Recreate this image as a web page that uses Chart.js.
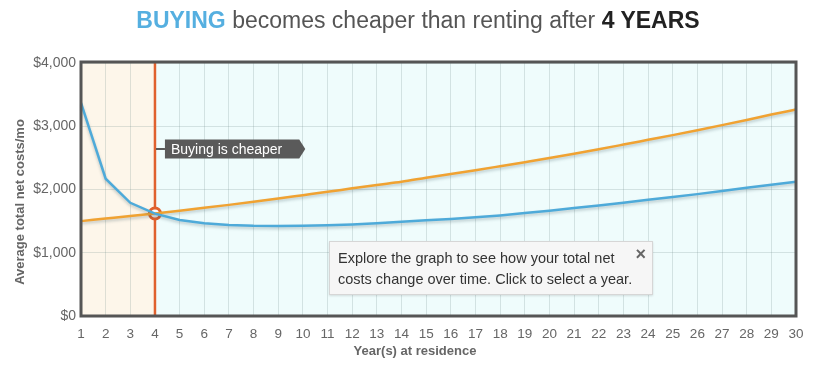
<!DOCTYPE html>
<html>
<head>
<meta charset="utf-8">
<script src="https://cdn.jsdelivr.net/npm/chart.js@4.4.1/dist/chart.umd.min.js"></script>
<style>
    body { margin: 0; background: #fff; font-family: "Liberation Sans", Arial, sans-serif; }
    #wrap { position: relative; width: 831px; height: 373px; }
    #title { position: absolute; left: 0; top: 7px; width: 836px; text-align: center; font-size: 23px; color: #555; white-space: nowrap; }
    #title .buy { color: #55afe0; font-weight: bold; }
    #title .yrs { color: #222; font-weight: bold; }
    #hint { position: absolute; left: 329px; top: 241px; width: 322px; height: 52px; background: #f6f6f6; border: 1px solid #d6d6d6; box-shadow: 0 1px 2px rgba(0,0,0,0.12); font-size: 14.5px; line-height: 21px; color: #333; }
    #hint p { margin: 6px 0 0 8px; white-space: nowrap; }
    #hint .close { position: absolute; right: 6px; top: 2px; font-size: 18px; font-weight: bold; color: #666; }
</style>
</head>
<body>
<div id="wrap">
    <canvas id="costChart" width="831" height="373"></canvas>
    <div id="title"><span class="buy">BUYING</span> becomes cheaper than renting after <span class="yrs">4 YEARS</span></div>
    <div id="hint"><p>Explore the graph to see how your total net<br>costs change over time. Click to select a year.</p><span class="close">&times;</span></div>
</div>
<script>
var YEARS = ['1', '2', '3', '4', '5', '6', '7', '8', '9', '10', '11', '12', '13', '14', '15',
    '16', '17', '18', '19', '20', '21', '22', '23', '24', '25', '26', '27', '28', '29', '30'];

// average total net costs per month
var BUY_COSTS = [3370, 2170, 1790, 1618, 1517, 1465, 1438, 1425, 1422, 1426, 1435, 1448, 1465, 1490, 1512,
    1535, 1560, 1590, 1627, 1665, 1706, 1748, 1791, 1837, 1880, 1927, 1978, 2028, 2076, 2122];
var RENT_COSTS = [1500, 1540, 1580, 1622, 1665, 1710, 1757, 1806, 1857, 1910, 1963, 2018, 2072, 2123, 2185,
    2245, 2305, 2368, 2432, 2497, 2565, 2636, 2710, 2785, 2860, 2938, 3018, 3100, 3185, 3265];

var BREAK_EVEN_YEAR = '4';
var BREAK_EVEN_COST = 1620;
var TAG_COST = 2640;
var TAG_TEXT = 'Buying is cheaper';
var X_TITLE = 'Year(s) at residence';
var Y_TITLE = 'Average total net costs/mo';

var BUY_COLOR = '#4eaad9',
    RENT_COLOR = '#f0a232',
    MARK_COLOR = '#e0612e',
    FONT = '"Liberation Sans", Arial, sans-serif';

var chartDecor = {
    id: 'chartDecor',
    beforeDraw: function (chart) {
        var ctx = chart.ctx,
            area = chart.chartArea,
            xBreak = chart.scales.x.getPixelForValue(YEARS.indexOf(BREAK_EVEN_YEAR));

        ctx.save();
        ctx.fillStyle = '#fdf6ea';
        ctx.fillRect(area.left, area.top, xBreak - area.left, area.bottom - area.top);
        ctx.fillStyle = '#effcfc';
        ctx.fillRect(xBreak, area.top, area.right - xBreak, area.bottom - area.top);
        ctx.restore();
    },
    beforeDatasetsDraw: function (chart) {
        var ctx = chart.ctx,
            area = chart.chartArea,
            xBreak = chart.scales.x.getPixelForValue(YEARS.indexOf(BREAK_EVEN_YEAR)),
            yTag = chart.scales.y.getPixelForValue(TAG_COST),
            tagLeft = xBreak + 10,
            tagWidth,
            tagH = 19;

        ctx.save();
        ctx.strokeStyle = MARK_COLOR;
        ctx.lineWidth = 2.5;
        ctx.beginPath();
        ctx.moveTo(xBreak, area.top);
        ctx.lineTo(xBreak, area.bottom);
        ctx.stroke();

        // tag
        ctx.font = '14px ' + FONT;
        tagWidth = ctx.measureText(TAG_TEXT).width + 23;
        ctx.strokeStyle = '#5a5a5a';
        ctx.lineWidth = 2;
        ctx.beginPath();
        ctx.moveTo(xBreak + 1, yTag);
        ctx.lineTo(tagLeft, yTag);
        ctx.stroke();
        ctx.fillStyle = '#5a5a5a';
        ctx.beginPath();
        ctx.moveTo(tagLeft, yTag - tagH / 2);
        ctx.lineTo(tagLeft + tagWidth, yTag - tagH / 2);
        ctx.lineTo(tagLeft + tagWidth + 6, yTag);
        ctx.lineTo(tagLeft + tagWidth, yTag + tagH / 2);
        ctx.lineTo(tagLeft, yTag + tagH / 2);
        ctx.closePath();
        ctx.fill();
        ctx.fillStyle = '#fff';
        ctx.textBaseline = 'middle';
        ctx.fillText(TAG_TEXT, tagLeft + 6, yTag + 1);
        ctx.restore();
    },
    beforeDatasetDraw: function (chart, args) {
        var ctx = chart.ctx;
        ctx.save();
        if (args.index < 2) {
            ctx.shadowColor = 'rgba(60, 90, 100, 0.3)';
            ctx.shadowBlur = 3;
            ctx.shadowOffsetY = 2;
        }
    },
    afterDatasetDraw: function (chart) {
        chart.ctx.restore();
    },
    afterDraw: function (chart) {
        var ctx = chart.ctx,
            area = chart.chartArea;

        ctx.save();
        ctx.strokeStyle = '#555';
        ctx.lineWidth = 3;
        ctx.strokeRect(area.left, area.top - 1, area.right - area.left, area.bottom - area.top + 1);

        ctx.fillStyle = '#666';
        ctx.font = 'bold 13px ' + FONT;
        ctx.textAlign = 'center';
        ctx.textBaseline = 'middle';
        ctx.fillText(X_TITLE, 415, 351);

        ctx.translate(20, 202);
        ctx.rotate(-Math.PI / 2);
        ctx.fillText(Y_TITLE, 0, 0);
        ctx.restore();
    }
};

var breakEvenPoint = YEARS.map(function (year) {
    return year === BREAK_EVEN_YEAR ? BREAK_EVEN_COST : null;
});

var costChart = new Chart(document.getElementById('costChart').getContext('2d'), {
    type: 'line',
    data: {
        labels: YEARS,
        datasets: [{
            label: 'Buy',
            data: BUY_COSTS,
            borderColor: BUY_COLOR,
            borderWidth: 2.5,
            pointRadius: 0,
            tension: 0,
            fill: false
        }, {
            label: 'Rent',
            data: RENT_COSTS,
            borderColor: RENT_COLOR,
            borderWidth: 2.5,
            pointRadius: 0,
            cubicInterpolationMode: 'monotone',
            fill: false
        }, {
            label: 'Break even',
            data: breakEvenPoint,
            showLine: false,
            pointRadius: 5.5,
            pointBorderWidth: 3,
            pointBackgroundColor: '#fff',
            pointBorderColor: MARK_COLOR
        }]
    },
    options: {
        responsive: false,
        animation: false,
        events: [],
        layout: { padding: { top: 63, right: 35, left: 0, bottom: 0 } },
        plugins: {
            legend: { display: false },
            tooltip: { enabled: false }
        },
        scales: {
            x: {
                offset: false,
                afterFit: function (scale) { scale.height = 57; },
                grid: { color: 'rgba(110, 135, 135, 0.22)', drawTicks: false },
                border: { display: false },
                ticks: {
                    autoSkip: false,
                    maxRotation: 0,
                    padding: 10,
                    color: '#666',
                    font: { family: FONT, size: 13.5 }
                }
            },
            y: {
                min: 0,
                max: 4000,
                afterFit: function (scale) { scale.width = 81; },
                grid: { color: 'rgba(110, 135, 135, 0.22)', drawTicks: false },
                border: { display: false },
                ticks: {
                    stepSize: 1000,
                    padding: 5,
                    color: '#666',
                    font: { family: FONT, size: 14 },
                    callback: function (value) { return '$' + value.toLocaleString('en-US'); }
                }
            }
        }
    },
    plugins: [chartDecor]
});
</script>
</body>
</html>
